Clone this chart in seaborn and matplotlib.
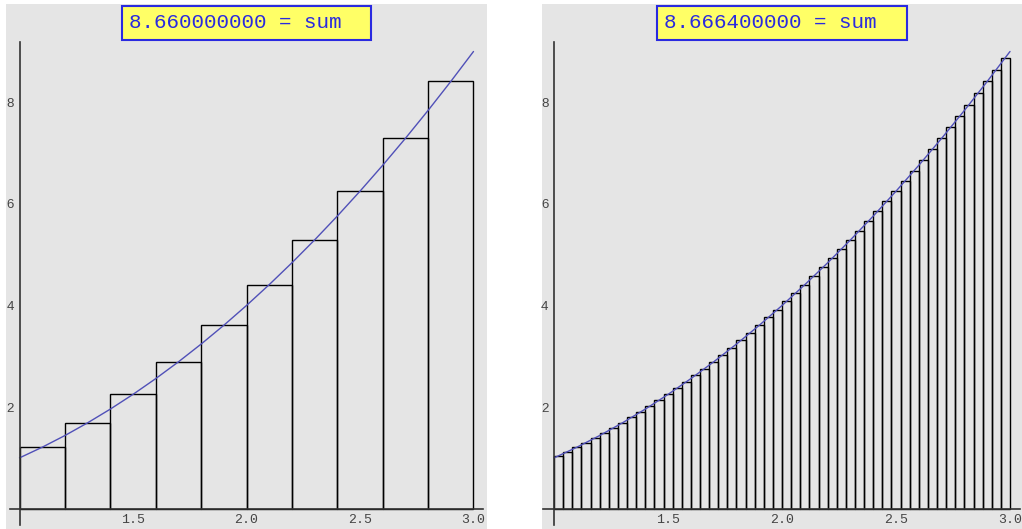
import numpy as np
import pandas as pd
import matplotlib
matplotlib.use("Agg")
import matplotlib.pyplot as plt
from matplotlib.patches import Rectangle
from matplotlib.ticker import FixedLocator, MultipleLocator, FormatStrFormatter
import seaborn as sns

# ---- data: midpoint sums of x^2 on [1, 3] ----
mid_10 = [1.1, 1.3, 1.5, 1.7, 1.9, 2.1, 2.3, 2.5, 2.7, 2.9]
height_10 = [1.21, 1.69, 2.25, 2.89, 3.61, 4.41, 5.29, 6.25, 7.29, 8.41]

mid_50 = [1.02, 1.06, 1.10, 1.14, 1.18, 1.22, 1.26, 1.30, 1.34, 1.38,
          1.42, 1.46, 1.50, 1.54, 1.58, 1.62, 1.66, 1.70, 1.74, 1.78,
          1.82, 1.86, 1.90, 1.94, 1.98, 2.02, 2.06, 2.10, 2.14, 2.18,
          2.22, 2.26, 2.30, 2.34, 2.38, 2.42, 2.46, 2.50, 2.54, 2.58,
          2.62, 2.66, 2.70, 2.74, 2.78, 2.82, 2.86, 2.90, 2.94, 2.98]
height_50 = [1.0404, 1.1236, 1.2100, 1.2996, 1.3924, 1.4884, 1.5876, 1.6900, 1.7956, 1.9044,
             2.0164, 2.1316, 2.2500, 2.3716, 2.4964, 2.6244, 2.7556, 2.8900, 3.0276, 3.1684,
             3.3124, 3.4596, 3.6100, 3.7636, 3.9204, 4.0804, 4.2436, 4.4100, 4.5796, 4.7524,
             4.9284, 5.1076, 5.2900, 5.4756, 5.6644, 5.8564, 6.0516, 6.2500, 6.4516, 6.6564,
             6.8644, 7.0756, 7.2900, 7.5076, 7.7284, 7.9524, 8.1796, 8.4100, 8.6436, 8.8804]

curve_x = [1.0, 1.1, 1.2, 1.3, 1.4, 1.5, 1.6, 1.7, 1.8, 1.9, 2.0,
           2.1, 2.2, 2.3, 2.4, 2.5, 2.6, 2.7, 2.8, 2.9, 3.0]
curve_y = [1.00, 1.21, 1.44, 1.69, 1.96, 2.25, 2.56, 2.89, 3.24, 3.61, 4.00,
           4.41, 4.84, 5.29, 5.76, 6.25, 6.76, 7.29, 7.84, 8.41, 9.00]

titles = ["8.660000000 = sum", "8.666400000 = sum"]

# ---- style ----
sns.set_style("white", {"axes.facecolor": "#e5e5e5"})
plt.rcParams["font.family"] = ["DejaVu Sans"]

W, H = 1022, 529
fig = plt.figure(figsize=(W / 100, H / 100), dpi=100)

panels = [
    # gray box (px), xlim, bars, title box (px)
    dict(box=(6, 4, 487, 529), xlim=(0.9405, 3.0595), mids=mid_10, heights=height_10,
         tbox=(122, 6, 371, 40), xspan=(0.958, 3.042)),
    dict(box=(542, 4, 1022, 529), xlim=(0.947, 3.0526), mids=mid_50, heights=height_50,
         tbox=(657, 6, 907, 40), xspan=(0.95, 3.045)),
]

for p, title in zip(panels, titles):
    x0, y0, x1, y1 = p["box"]
    ax = fig.add_axes([x0 / W, 1 - y1 / H, (x1 - x0) / W, (y1 - y0) / H])
    ax.set_facecolor("#e5e5e5")

    df = pd.DataFrame({"x": p["mids"], "h": p["heights"]})
    sns.barplot(data=df, x="x", y="h", native_scale=True, width=1, errorbar=None,
                facecolor="none", edgecolor="black", linewidth=1.0, ax=ax)
    sns.lineplot(x=curve_x, y=curve_y, color="#5050b8", linewidth=1.0, ax=ax)

    ax.set_xlim(*p["xlim"])
    ax.set_ylim(-0.40, 9.935)
    ax.set_xlabel("")
    ax.set_ylabel("")

    for s in ["top", "right"]:
        ax.spines[s].set_visible(False)
    ax.spines["left"].set_position(("data", 1.0))
    ax.spines["bottom"].set_position(("data", 0.0))
    ax.spines["left"].set_bounds(-0.32, 9.19)
    ax.spines["bottom"].set_bounds(*p["xspan"])
    for s in ["left", "bottom"]:
        ax.spines[s].set_color("#333333")
        ax.spines[s].set_linewidth(1.2)
        ax.spines[s].set_zorder(5)

    ax.xaxis.set_major_locator(FixedLocator([1.5, 2.0, 2.5, 3.0]))
    ax.xaxis.set_major_formatter(FormatStrFormatter("%.1f"))
    ax.xaxis.set_minor_locator(MultipleLocator(0.1))
    ax.yaxis.set_major_locator(FixedLocator([2, 4, 6, 8]))
    ax.yaxis.set_minor_locator(FixedLocator([0.5, 1, 1.5, 2.5, 3, 3.5, 4.5, 5, 5.5,
                                             6.5, 7, 7.5, 8.5, 9]))
    ax.tick_params(which="both", direction="in", color="#333333", width=1.0,
                   labelcolor="#444444")
    ax.tick_params(which="major", length=5)
    ax.tick_params(which="minor", length=3)
    ax.tick_params(axis="x", pad=4)
    ax.tick_params(axis="y", pad=4)
    for lab in ax.get_xticklabels():
        lab.set_family("Liberation Mono")
        lab.set_fontsize(9.5)
    for lab in ax.get_yticklabels():
        lab.set_family("Liberation Sans")
        lab.set_fontsize(9.5)

    # yellow title box
    bx0, by0, bx1, by1 = p["tbox"]
    fig.add_artist(Rectangle((bx0 / W, 1 - by1 / H), (bx1 - bx0) / W, (by1 - by0) / H,
                             transform=fig.transFigure, facecolor="#ffff66",
                             edgecolor="#2a2ae0", linewidth=1.5, zorder=10))
    fig.text((bx0 + 7) / W, 1 - (by0 + by1) / 2 / H, title,
             ha="left", va="center", family="Liberation Mono", fontsize=15,
             color="#2a2ae0", zorder=11)

fig.savefig("out.png", dpi=100)
